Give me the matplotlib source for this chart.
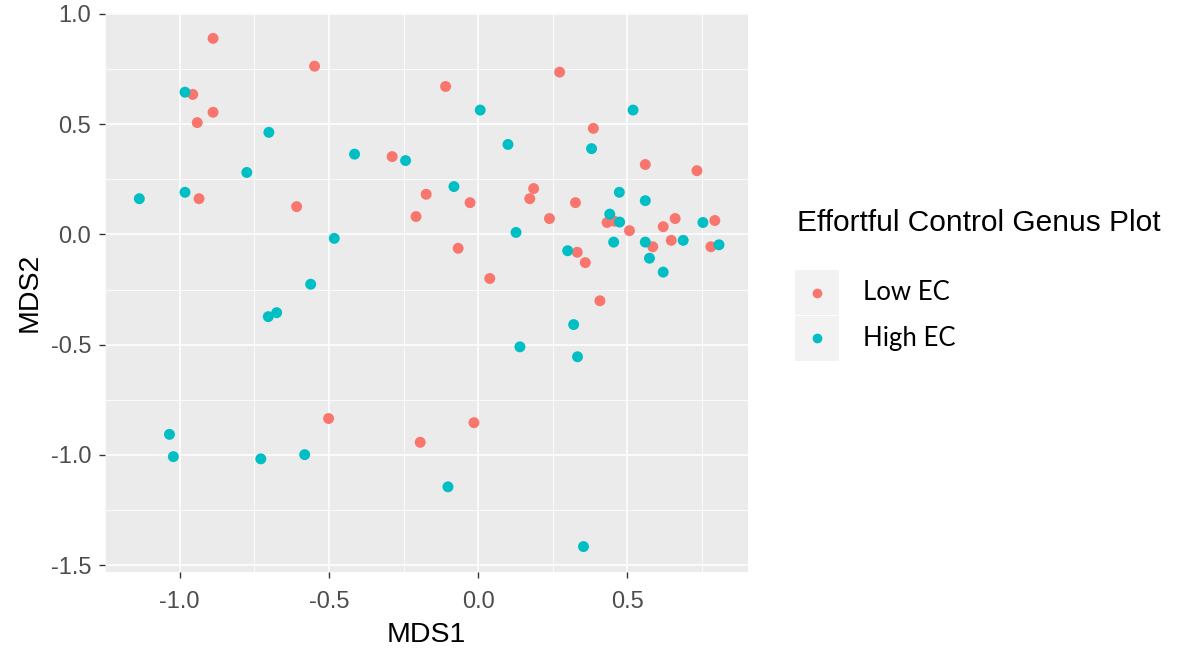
import matplotlib
matplotlib.use("Agg")
from matplotlib import pyplot as plt
from matplotlib.patches import Rectangle
from matplotlib.lines import Line2D

# MDS coordinates
low_ec_mds1 = [-0.888, -0.548, -0.956, -0.888, -0.941, -0.288, -0.174, -0.208, -0.935, -0.608,
               -0.109, 0.273, 0.386, 0.560, 0.733, -0.027, 0.186, 0.173, 0.326, 0.239,
               0.432, 0.456, 0.507, 0.620, 0.660, 0.793, 0.585, 0.647, 0.780, -0.067,
               0.332, 0.359, 0.039, 0.408, -0.014, -0.194, -0.501]
low_ec_mds2 = [0.889, 0.763, 0.635, 0.554, 0.507, 0.353, 0.182, 0.081, 0.162, 0.126,
               0.671, 0.736, 0.481, 0.317, 0.289, 0.144, 0.208, 0.162, 0.144, 0.072,
               0.054, 0.060, 0.017, 0.035, 0.072, 0.063, -0.056, -0.027, -0.056, -0.063,
               -0.081, -0.128, -0.200, -0.301, -0.854, -0.943, -0.835]

high_ec_mds1 = [-0.982, -0.701, -0.414, -0.243, -0.775, -1.135, -0.982, -0.482, -0.561, 0.007,
                0.519, 0.100, 0.380, -0.081, 0.473, 0.560, 0.441, 0.474, 0.753, 0.127,
                0.454, 0.560, 0.687, 0.807, 0.300, 0.574, 0.620, 0.320, 0.140, 0.333,
                -0.101, 0.353, -0.703, -0.675, -1.034, -1.021, -0.728, -0.581]
high_ec_mds2 = [0.645, 0.463, 0.364, 0.335, 0.281, 0.162, 0.191, -0.018, -0.226, 0.564,
                0.564, 0.408, 0.389, 0.217, 0.191, 0.153, 0.092, 0.056, 0.054, 0.009,
                -0.035, -0.035, -0.027, -0.047, -0.074, -0.108, -0.171, -0.409, -0.510, -0.555,
                -1.145, -1.416, -0.373, -0.355, -0.907, -1.008, -1.018, -0.999]

group_labels = ["Low EC", "High EC"]
group_colors = ["#F8766D", "#00BFC4"]

x_ticks = [-1.0, -0.5, 0.0, 0.5]
y_ticks = [1.0, 0.5, 0.0, -0.5, -1.0, -1.5]

plt.rcParams['font.family'] = ['Liberation Sans', 'DejaVu Sans']

W, H = 1185, 658
fig = plt.figure(figsize=(W / 100, H / 100), dpi=100)
ax = fig.add_axes([105 / W, 1 - 572 / H, (748 - 105) / W, (572 - 13) / H])

ax.scatter(low_ec_mds1, low_ec_mds2, s=62, color=group_colors[0], edgecolors='none', zorder=3)
ax.scatter(high_ec_mds1, high_ec_mds2, s=62, color=group_colors[1], edgecolors='none', zorder=3)

# ggplot style 5% expansion
all_x = low_ec_mds1 + high_ec_mds1
all_y = low_ec_mds2 + high_ec_mds2
dx = (max(all_x) - min(all_x)) * 0.05
dy = (max(all_y) - min(all_y)) * 0.05
ax.set_xlim(min(all_x) - dx, max(all_x) + dx)
ax.set_ylim(min(all_y) - dy, max(all_y) + dy)

ax.set_facecolor('#EBEBEB')
for s in ax.spines.values():
    s.set_visible(False)

ax.set_xticks(x_ticks)
ax.set_yticks(y_ticks)
ax.set_xticklabels([f"{v:.1f}" for v in x_ticks])
ax.set_yticklabels([f"{v:.1f}" for v in y_ticks])
ax.set_xticks([-1.25, -0.75, -0.25, 0.25, 0.75], minor=True)
ax.set_yticks([0.75, 0.25, -0.25, -0.75, -1.25], minor=True)
ax.grid(True, which='major', color='white', linewidth=1.1, zorder=1)
ax.grid(True, which='minor', color='white', linewidth=0.55, zorder=1)
ax.set_axisbelow(True)
ax.tick_params(which='major', length=4, width=1, color='#333333',
               labelsize=17, labelcolor='#4D4D4D')
ax.tick_params(axis='x', pad=10)
ax.tick_params(axis='y', pad=6)
ax.tick_params(which='minor', length=0)

ax.set_xlabel('MDS1', fontsize=20.5, color='black', labelpad=6)
ax.set_ylabel('MDS2', fontsize=20.5, color='black', labelpad=6)

# legend drawn by hand in figure pixels
fig.text(797 / W, 1 - 223 / H, 'Effortful Control Genus Plot', fontsize=21.5,
         va='center', ha='left')
key_tops = [270, 316]
for top, lab, col in zip(key_tops, group_labels, group_colors):
    fig.add_artist(Rectangle((795 / W, 1 - (top + 45) / H), 44 / W, 45 / H,
                             transform=fig.transFigure, facecolor='#F2F2F2',
                             edgecolor='none'))
    cy = top + 22.5
    fig.add_artist(Line2D([817 / W], [1 - cy / H], marker='o', markersize=7,
                          color=col, markeredgewidth=0, transform=fig.transFigure))
    fig.text(863 / W, 1 - cy / H, lab, fontsize=18.5, family=['Lato', 'DejaVu Sans'],
             va='center', ha='left')

plt.savefig('out.png', dpi=100)
